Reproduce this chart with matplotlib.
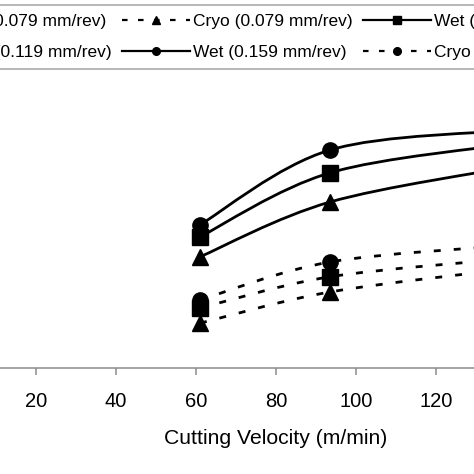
import matplotlib
matplotlib.use('Agg')
import matplotlib.pyplot as plt
from matplotlib.path import Path
from matplotlib.patches import PathPatch
from matplotlib.lines import Line2D

plt.rcParams['font.family'] = ['Liberation Sans', 'DejaVu Sans']

# cutting velocity (m/min)
velocity = [61, 93.5, 140]

# response values (y axis not visible in the crop)
wet_079 = [278, 415, 505]
wet_119 = [328, 488, 562]
wet_159 = [358, 545, 595]
cryo_079 = [112, 190, 250]
cryo_119 = [150, 228, 275]
cryo_159 = [170, 265, 308]

labels = ['Wet (0.079 mm/rev)', 'Cryo (0.079 mm/rev)', 'Wet (0.119 mm/rev)',
          'Cryo (0.119 mm/rev)', 'Wet (0.159 mm/rev)', 'Cryo (0.159 mm/rev)']
series = [wet_079, cryo_079, wet_119, cryo_119, wet_159, cryo_159]
markers = ['^', '^', 's', 's', 'o', 'o']
dashed = [False, True, False, True, False, True]

DASH = (0, (2.5, 4.7))


def smooth_path(xs, ys):
    # excel-like smoothed line: cubic bezier through the points
    pts = list(zip(xs, ys))
    n = len(pts)
    verts = [pts[0]]
    codes = [Path.MOVETO]
    for i in range(n - 1):
        p0 = pts[i - 1] if i > 0 else pts[i]
        p1 = pts[i]
        p2 = pts[i + 1]
        p3 = pts[i + 2] if i + 2 < n else pts[i + 1]
        c1 = (p1[0] + (p2[0] - p0[0]) / 6, p1[1] + (p2[1] - p0[1]) / 6)
        c2 = (p2[0] - (p3[0] - p1[0]) / 6, p2[1] - (p3[1] - p1[1]) / 6)
        verts += [c1, c2, p2]
        codes += [Path.CURVE4] * 3
    return Path(verts, codes)


W = 474
fig = plt.figure(figsize=(W / 100, W / 100), dpi=100)
ax = fig.add_axes([-44 / W, (W - 368) / W, 640 / W, 360 / W])
ax.set_xlim(0, 160)
ax.set_ylim(0, 900)

handles = []
for ys, m, d in zip(series, markers, dashed):
    ls = DASH if d else '-'
    patch = PathPatch(smooth_path(velocity, ys), facecolor='none', edgecolor='black',
                      lw=2, linestyle=ls, transform=ax.transData)
    ax.add_patch(patch)
    ax.plot(velocity, ys, linestyle='none', marker=m, color='black', markersize=11)
    handles.append(Line2D([], [], color='black', lw=1.6, linestyle=ls, marker=m,
                          markersize=5.5))

for s in ['left', 'top', 'right']:
    ax.spines[s].set_visible(False)
ax.spines['bottom'].set_color('#8c8c8c')
ax.spines['bottom'].set_linewidth(1.1)
ax.set_yticks([])
ax.set_xticks([20, 40, 60, 80, 100, 120])
ax.tick_params(axis='x', direction='out', length=5, width=1.1, color='#8c8c8c',
               labelsize=14.5, pad=12)
ax.set_xlabel('Cutting Velocity (m/min)', fontsize=15.2, labelpad=13)

# legend fills column by column, reorder so it reads row by row
order = [0, 3, 1, 4, 2, 5]
leg = fig.legend([handles[i] for i in order], [labels[i] for i in order],
                 loc='center', bbox_to_anchor=(238 / W, 1 - 37 / W),
                 ncol=3, fontsize=12.5, handlelength=3.9, handletextpad=0.2,
                 columnspacing=0.6, labelspacing=0.95, borderpad=0.5,
                 fancybox=False, frameon=True, edgecolor='#8c8c8c')
leg.get_frame().set_linewidth(1.1)

fig.savefig('out.png', dpi=100)
